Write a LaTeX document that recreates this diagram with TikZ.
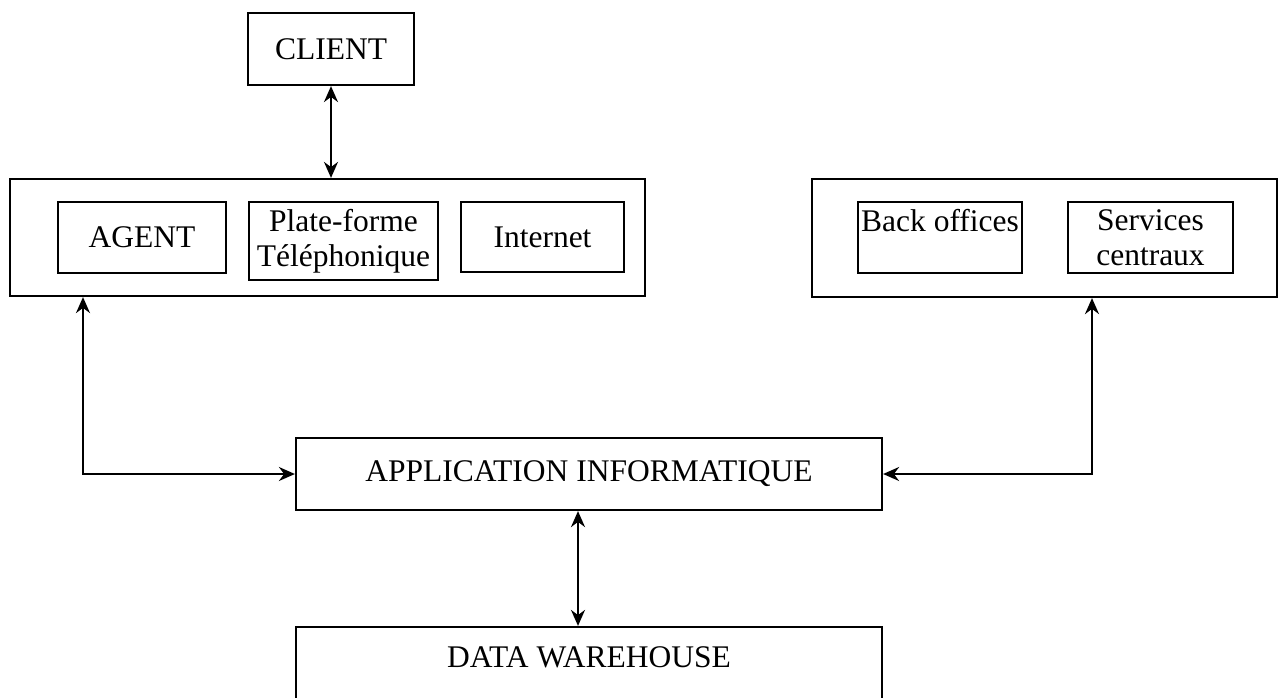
\documentclass[tikz,border=0pt]{standalone}
\usepackage{fontspec}
\setmainfont{Liberation Serif}
\usetikzlibrary{arrows.meta}
\begin{document}
\begin{tikzpicture}[x=1pt,y=-1pt,
  box/.style={draw, line width=2.2pt, rectangle, inner sep=0pt, align=center,
              font=\fontsize{31.5}{35}\selectfont},
  link/.style={line width=2.2pt,
               {Stealth[length=16pt,width=14pt]}-{Stealth[length=16pt,width=14pt]}}]
  \fill[white] (0,0) rectangle (1278,697);
  \useasboundingbox (0,0) rectangle (1278,697);
  \clip (0,0) rectangle (1278,697);

  % client
  \node[box, minimum width=166pt, minimum height=72pt] (client) at (331,49) {CLIENT};

  % front-office channels
  \node[box, minimum width=635pt, minimum height=117pt] (grpL) at (327.5,237.5) {};
  \node[box, minimum width=168pt, minimum height=71pt] (agent) at (142,237.5) {AGENT};
  \node[box, minimum width=189pt, minimum height=78pt] (plate) at (343.5,241) {Plate-forme\\Téléphonique};
  \node[box, minimum width=163pt, minimum height=70pt] (internet) at (542.5,237) {Internet};

  % back-office services
  \node[box, minimum width=465pt, minimum height=118pt] (grpR) at (1044.5,238) {};
  \node[box, minimum width=164pt, minimum height=71pt] (back) at (940,237.5) {Back offices\\\mbox{}};
  \node[box, minimum width=165pt, minimum height=71pt] (serv) at (1150.5,237.5) {Services\\centraux};

  % information system
  \node[box, minimum width=586pt, minimum height=72pt] (app) at (589,474) {APPLICATION INFORMATIQUE};
  \node[box, minimum width=586pt, minimum height=113pt] (dw) at (589,683.5) {};
  \node[font=\fontsize{31.5}{35}\selectfont, inner sep=0pt] (dwlabel) at (589,657) {DATA WAREHOUSE};

  % connectors
  \coordinate (lfoot) at (83,0 |- grpL.south);
  \coordinate (rfoot) at (1092,0 |- grpR.south);
  \coordinate (ax) at (578,0);
  \draw[link] (client.south) -- (client.south |- grpL.north);
  \draw[link] (lfoot) |- (app.west);
  \draw[link] (rfoot) |- (app.east);
  \draw[link] (ax |- app.south) -- (ax |- dw.north);
\end{tikzpicture}
\end{document}
